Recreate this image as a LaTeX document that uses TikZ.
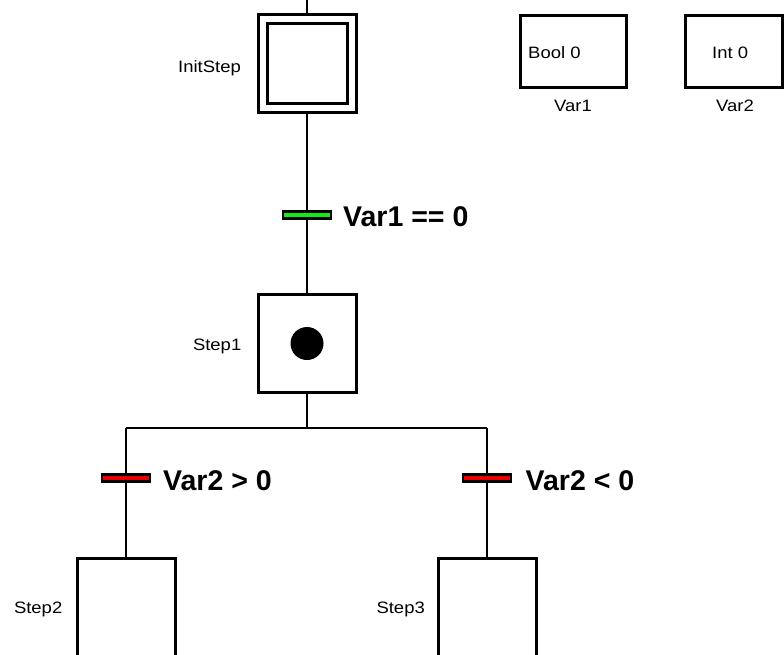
\documentclass[tikz,border=0pt]{standalone}
\usepackage{fontspec}
\setmainfont{Liberation Sans}
\newfontfamily\lblfont[FakeStretch=1.12]{Liberation Sans}
\definecolor{trgreen}{RGB}{20,235,20}
\definecolor{trred}{RGB}{235,0,0}
\begin{document}
\begin{tikzpicture}[x=1pt,y=-1pt,
  stepbox/.style={draw,line width=3pt,minimum width=98pt,minimum height=98pt,inner sep=0pt},
  varbox/.style={draw,line width=3pt,minimum height=72pt,inner sep=0pt},
  trbar/.style={draw,line width=2.2pt,minimum width=48pt,minimum height=7pt,inner sep=0pt},
  link/.style={line width=1.2pt},
  lbl/.style={font=\lblfont\fontsize{16.5}{16.5}\selectfont,inner sep=0pt},
  cond/.style={font=\bfseries\fontsize{28.5}{28.5}\selectfont,inner sep=0pt,anchor=base west}]
\useasboundingbox (0,0) rectangle (784,654);
\clip (0,0) rectangle (784,654);

% steps
\node[stepbox] (init) at (307,63.5) {};
\node[draw,line width=3pt,minimum width=80pt,minimum height=80pt,inner sep=0pt] (initin) at (init.center) {};
\node[stepbox] (step1) at (307,343.5) {};
\node[stepbox] (step2) at (126,607) {};
\node[stepbox] (step3) at (487,607) {};
\node[circle,fill=black,minimum size=33pt,inner sep=0pt] (token) at (step1.center) {};

% transitions
\node[trbar,fill=trgreen] (t1) at (307,215) {};
\node[trbar,fill=trred] (t2) at (126,478) {};
\node[trbar,fill=trred] (t3) at (487,478) {};

% branch points
\coordinate (top) at (307,0);
\coordinate (jm) at (307,428);
\coordinate (jl) at (126,428);
\coordinate (jr) at (487,428);

% links
\draw[link] (top) -- (init.north);
\draw[link] (init.south) -- (t1.north);
\draw[link] (t1.south) -- (step1.north);
\draw[link] (step1.south) -- (jm);
\draw[link] (jl) -- (jr);
\draw[link] (jl) -- (t2.north);
\draw[link] (t2.south) -- (step2.north);
\draw[link] (jr) -- (t3.north);
\draw[link] (t3.south) -- (step3.north);

% step names
\node[lbl,anchor=base east] (linit) at (241,72) {InitStep};
\node[lbl,anchor=base east] (lstep1) at (241.5,350) {Step1};
\node[lbl,anchor=base east] (lstep2) at (62.5,613) {Step2};
\node[lbl,anchor=base east] (lstep3) at (425,613) {Step3};

% conditions
\node[cond] (c1) at (343,226.5) {Var1 == 0};
\node[cond] (c2) at (163,490.5) {Var2 > 0};
\node[cond] (c3) at (525.5,490.5) {Var2 < 0};

% variables
\node[varbox,minimum width=106pt] (var1) at (573.5,51.5) {};
\node[varbox,minimum width=97pt] (var2) at (734,51.5) {};
\node[lbl,anchor=base west] (v1val) at (528,58) {Bool 0};
\node[lbl,anchor=base west] (v2val) at (712,58) {Int 0};
\node[lbl,anchor=base] (v1name) at (573,111.5) {Var1};
\node[lbl,anchor=base] (v2name) at (735,111.5) {Var2};
\end{tikzpicture}
\end{document}
